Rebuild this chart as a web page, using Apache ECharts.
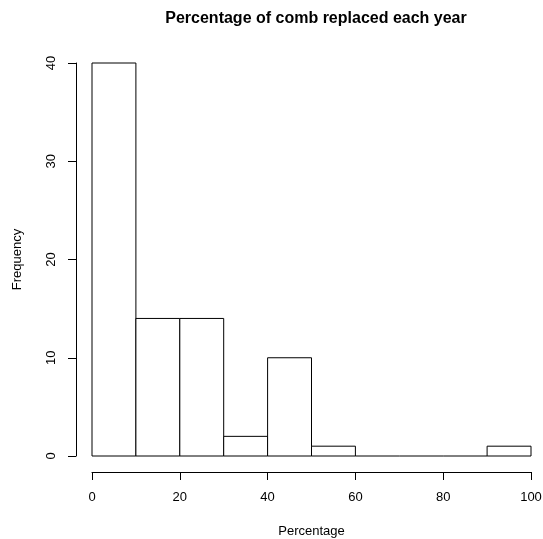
<!DOCTYPE html>
<html>
<head>
<meta charset="utf-8">
<script src="https://cdn.jsdelivr.net/npm/echarts@6/dist/echarts.min.js"></script>
<style>
html, body { margin: 0; padding: 0; background: #fff; }
#chart { width: 543px; height: 539px; }
</style>
</head>
<body>
<div id="chart"></div>
<script>
// histogram bins and counts
var binStarts = [0, 10, 20, 30, 40, 50, 60, 70, 80, 90];
var binEnds = [10, 20, 30, 40, 50, 60, 70, 80, 90, 100];
var counts = [40, 14, 14, 2, 10, 1, 0, 0, 0, 1];
var xTicks = [0, 20, 40, 60, 80, 100];
var yTicks = [0, 10, 20, 30, 40];

(function(){
    var myChart = echarts.init(document.getElementById('chart'));
    var data = [];
    for (var i = 0; i < counts.length; i++) {
        data.push([binStarts[i], binEnds[i], counts[i]]);
    }
    var font = 'Liberation Sans, Arial, Helvetica, sans-serif';
    var option = {
        backgroundColor: '#fff',
        animation: false,
        title: {
            text: 'Percentage of comb replaced each year',
            left: 311,
            top: 6,
            textAlign: 'center',
            textStyle: {
                fontFamily: font,
                fontSize: 16,
                fontWeight: 'bold',
                color: '#000'
            }
        },
        grid: {
            left: 92,
            right: 12,
            top: 63,
            bottom: 83,
            containLabel: false,
            outerBoundsMode: 'none'
        },
        xAxis: {
            type: 'value',
            min: 0,
            max: 100,
            interval: 20,
            offset: 16,
            name: 'Percentage',
            nameLocation: 'middle',
            nameGap: 53,
            nameTextStyle: { fontFamily: font, fontSize: 13, color: '#000' },
            splitLine: { show: false },
            axisLine: { show: true, onZero: false, lineStyle: { color: '#000', width: 1 } },
            axisTick: { show: true, length: 8, lineStyle: { color: '#000' } },
            axisLabel: {
                margin: 19,
                fontFamily: font,
                fontSize: 13,
                color: '#000',
                formatter: function(v) { return xTicks.indexOf(v) >= 0 ? String(v) : ''; }
            }
        },
        yAxis: {
            type: 'value',
            min: 0,
            max: 40,
            interval: 10,
            offset: 16,
            name: 'Frequency',
            nameLocation: 'middle',
            nameGap: 52,
            nameRotate: 90,
            nameTextStyle: { fontFamily: font, fontSize: 13, color: '#000' },
            splitLine: { show: false },
            axisLine: { show: true, onZero: false, lineStyle: { color: '#000', width: 1 } },
            axisTick: { show: true, length: 8, lineStyle: { color: '#000' } },
            axisLabel: {
                rotate: 90,
                margin: 18,
                fontFamily: font,
                fontSize: 13,
                color: '#000',
                formatter: function(v) { return yTicks.indexOf(v) >= 0 ? String(v) : ''; }
            }
        },
        series: [{
            type: 'custom',
            data: data,
            encode: { x: [0, 1], y: 2 },
            renderItem: function(params, api) {
                var p0 = api.coord([api.value(0), api.value(2)]);
                var p1 = api.coord([api.value(1), 0]);
                if (api.value(2) === 0) {
                    return {
                        type: 'line',
                        shape: { x1: p0[0], y1: p1[1], x2: p1[0], y2: p1[1] },
                        style: { stroke: '#000', lineWidth: 1 }
                    };
                }
                return {
                    type: 'rect',
                    shape: { x: p0[0], y: p0[1], width: p1[0] - p0[0], height: p1[1] - p0[1] },
                    style: { fill: '#fff', stroke: '#000', lineWidth: 1 }
                };
            }
        }]
    };
    myChart.setOption(option);
    window.addEventListener('resize', function() {
        myChart.resize();
    });
})();
</script>
</body>
</html>
